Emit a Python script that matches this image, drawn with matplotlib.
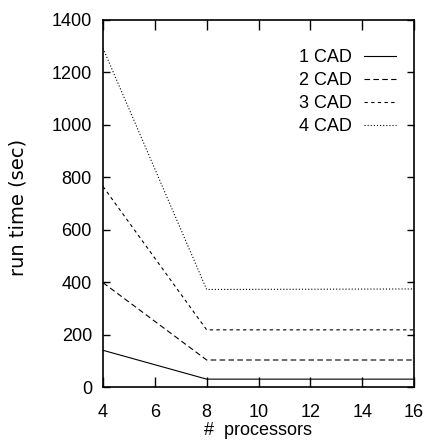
import matplotlib
matplotlib.use("Agg")
import matplotlib.pyplot as plt

processors = [4, 8, 16]
cad1 = [140, 30, 30]
cad2 = [398, 103, 103]
cad3 = [765, 218, 218]
cad4 = [1292, 372, 374]
labels = ["1 CAD", "2 CAD", "3 CAD", "4 CAD"]
xticks = [4, 6, 8, 10, 12, 14, 16]
yticks = [0, 200, 400, 600, 800, 1000, 1200, 1400]

fam = "Liberation Sans"

fig = plt.figure(figsize=(4.25, 4.46), dpi=100)
ax = fig.add_axes([103/425, 1 - 387/446, (414-103)/425, (387-20)/446])

styles = ["-", (0, (5, 3)), (0, (3, 3)), (0, (1, 1.8))]
for vals, lab, ls in zip([cad1, cad2, cad3, cad4], labels, styles):
    ax.plot(processors, vals, color="black", lw=0.8, linestyle=ls, label=lab)

ax.set_xlim(4, 16)
ax.set_ylim(0, 1400)
ax.set_xticks(xticks)
ax.set_yticks(yticks)
ax.tick_params(axis="x", direction="in", top=True, length=7, width=1,
               labelsize=13, pad=12)
ax.tick_params(axis="y", direction="in", right=True, length=5, width=1,
               labelsize=13, pad=8)
for lbl in ax.get_xticklabels() + ax.get_yticklabels():
    lbl.set_fontfamily(fam)
for s in ax.spines.values():
    s.set_linewidth(1.2)

ax.set_xlabel("#  processors", fontsize=13, fontfamily=fam, labelpad=1)
ax.set_ylabel("run time (sec)", fontsize=14, fontfamily="DejaVu Sans")
ax.yaxis.set_label_coords(-0.244, 0.488)

leg = ax.legend(loc="upper right", frameon=False, markerfirst=False,
                prop={"family": fam, "size": 13}, handlelength=1.75,
                handletextpad=0.7, labelspacing=0.33, borderaxespad=0,
                borderpad=0, bbox_to_anchor=(0.942, 0.921))

fig.savefig("out.png", dpi=100)
